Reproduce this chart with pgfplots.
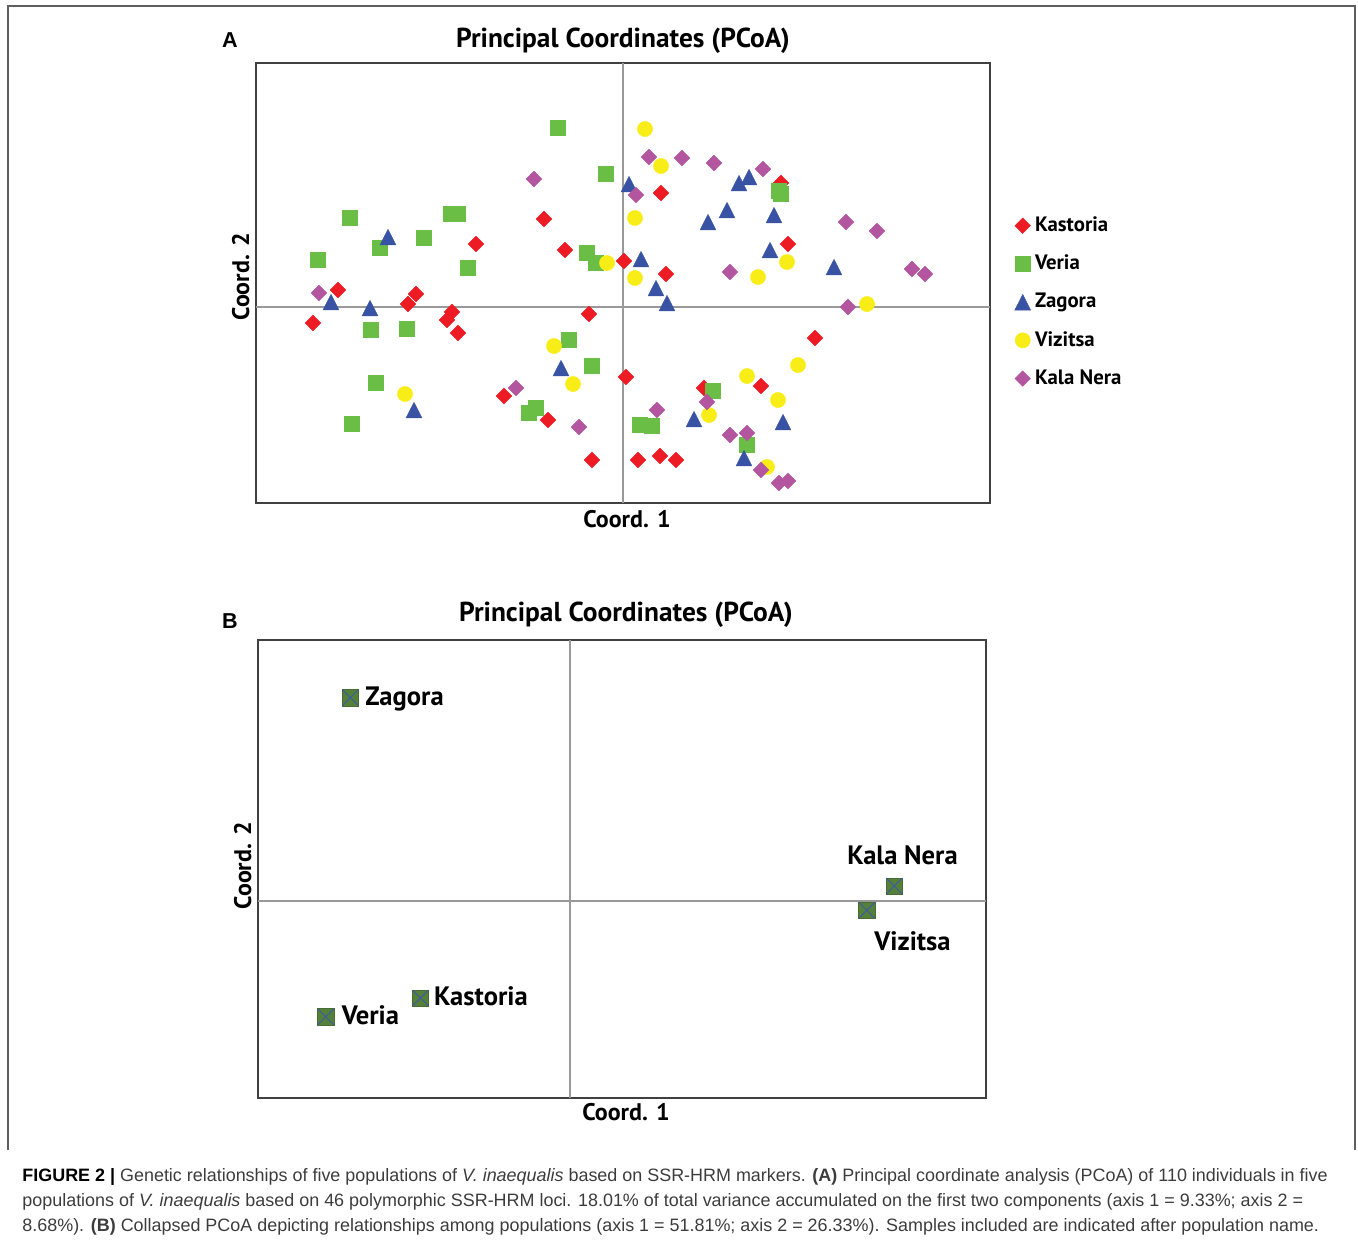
\documentclass[border=0pt]{standalone}
\usepackage{fontspec}
\setmainfont{Liberation Sans}
\newfontfamily\chartfont{PT Sans}
\usepackage{pgfplots}
\usepackage{pgfplotstable}
\pgfplotsset{compat=1.18}

\definecolor{cKas}{RGB}{237,28,36}
\definecolor{cVer}{RGB}{106,189,69}
\definecolor{cZag}{RGB}{57,83,164}
\definecolor{cViz}{RGB}{248,237,22}
\definecolor{cKal}{RGB}{180,85,160}
\definecolor{cBoxG}{RGB}{84,128,58}
\definecolor{cBoxB}{RGB}{60,90,170}
\definecolor{frameC}{RGB}{95,95,95}
\definecolor{capC}{RGB}{60,60,60}

% panel A: individuals (coord 1, coord 2)
\pgfplotstableread{
x y
-0.79 0.88
-1.47 0.63
-0.58 0.57
0.01 0.46
-2.85 0.17
-2.07 0.13
-2.15 0.03
-1.71 -0.05
-1.76 -0.13
-1.65 -0.26
-3.10 -0.16
-0.34 -0.07
0.03 -0.70
-1.19 -0.89
-0.75 -1.13
-0.31 -1.53
0.38 1.14
1.58 1.24
1.65 0.63
0.43 0.33
1.92 -0.31
1.38 -0.79
0.81 -0.81
0.15 -1.53
0.37 -1.49
0.53 -1.53
}\kastoria

\pgfplotstableread{
x y
-0.65 1.79
-0.17 1.33
-2.73 0.89
-1.72 0.93
-1.65 0.93
-2.43 0.59
-1.99 0.69
-3.05 0.47
-0.36 0.54
-0.27 0.44
-1.55 0.39
-2.52 -0.23
-2.16 -0.22
-0.54 -0.33
-0.31 -0.59
-2.47 -0.76
-0.87 -1.01
-0.94 -1.06
-2.71 -1.17
1.56 1.16
1.58 1.13
0.90 -0.84
0.17 -1.18
0.29 -1.19
1.24 -1.38
}\veria

\pgfplotstableread{
x y
0.06 1.23
-2.35 0.70
-2.92 0.05
-2.53 -0.01
-0.62 -0.61
-2.09 -1.03
1.16 1.24
1.26 1.30
0.85 0.85
1.04 0.97
1.51 0.92
1.47 0.57
2.11 0.40
0.18 0.48
0.33 0.19
0.44 0.04
0.71 -1.12
1.60 -1.15
1.21 -1.51
}\zagora

\pgfplotstableread{
x y
-0.16 0.44
-0.69 -0.39
-0.50 -0.77
-2.18 -0.87
0.22 1.78
0.38 1.41
0.12 0.89
1.64 0.45
0.12 0.29
1.35 0.30
2.44 0.03
1.75 -0.58
1.24 -0.69
1.55 -0.93
0.86 -1.08
1.44 -1.60
}\vizitsa

\pgfplotstableread{
x y
-0.89 1.28
-3.04 0.14
-1.07 -0.81
-0.44 -1.20
0.26 1.50
0.59 1.49
0.91 1.44
1.40 1.38
0.13 1.12
2.23 0.85
2.54 0.76
2.89 0.38
3.02 0.33
1.07 0.35
2.25 0.00
0.84 -0.95
0.34 -1.03
1.07 -1.28
1.24 -1.26
1.38 -1.63
1.56 -1.76
1.65 -1.74
}\kalanera

% panel B: population centroids
\pgfplotstableread{
x y
-2.196 2.033
-1.495 -0.970
-2.442 -1.157
2.968 -0.093
3.243 0.150
}\collapsed

\pgfplotsset{
  pcoa/.style={
    scale only axis, anchor=south west,
    xtick=\empty, ytick=\empty,
    extra x ticks={0}, extra y ticks={0},
    extra x tick labels={}, extra y tick labels={},
    extra tick style={grid=major, major tick length=0pt,
      major grid style={draw=black!40, line width=0.7pt}},
    axis line style={draw=black!75, line width=1.1pt},
    title={Principal Coordinates (PCoA)},
    title style={font=\chartfont\bfseries\fontsize{13.7}{15}\selectfont,
      at={(axis description cs:0.5,1)}, anchor=base},
    xlabel={Coord. 1}, ylabel={Coord. 2},
    label style={font=\chartfont\bfseries\fontsize{12}{14}\selectfont},
    xlabel style={at={(axis description cs:0.5,0)}, anchor=base},
    ylabel style={rotate=0, anchor=base},
    clip=false,
  },
}

\begin{document}
\begin{tikzpicture}
\path[use as bounding box] (0pt,0pt) rectangle (679pt,-621pt);

\begin{axis}[pcoa,
  at={(128pt,-251.5pt)}, width=367pt, height=220pt,
  xmin=-3.67, xmax=3.67, ymin=-1.96, ymax=2.44,
  title style={yshift=2pt},
  xlabel style={yshift=-12pt, xshift=2pt},
  ylabel style={at={(axis description cs:-0.0095,0.514)}},
  legend style={at={(axis description cs:1.025,0.665)}, anchor=north west,
    draw=none, fill=none, row sep=8.25pt,
    font=\chartfont\bfseries\fontsize{10.4}{12}\selectfont,
    nodes={inner sep=1pt},
    /tikz/every odd column/.append style={column sep=1.2pt}},
  legend cell align=left,
  legend image code/.code={\draw[#1] plot coordinates {(2pt,0pt)};},
]
\addplot[only marks, mark=square*, mark size=2.75pt,
  mark options={rotate=45, fill=cKas, draw=cKas, line width=0.2pt}] table {\kastoria};
\addlegendentry{Kastoria}
\addplot[only marks, mark=square*, mark size=3.7pt,
  mark options={fill=cVer, draw=cVer, line width=0.2pt}] table {\veria};
\addlegendentry{Veria}
\addplot[only marks, mark=triangle*, mark size=4.6pt,
  mark options={yscale=1.14, yshift=-1.2pt, fill=cZag, draw=cZag, line width=0.2pt}] table {\zagora};
\addlegendentry{Zagora}
\addplot[only marks, mark=*, mark size=3.8pt,
  mark options={fill=cViz, draw=cViz, line width=0.2pt}] table {\vizitsa};
\addlegendentry{Vizitsa}
\addplot[only marks, mark=square*, mark size=2.75pt,
  mark options={rotate=45, fill=cKal, draw=cKal, line width=0.2pt}] table {\kalanera};
\addlegendentry{Kala Nera}
\end{axis}

\begin{axis}[pcoa,
  at={(129pt,-549pt)}, width=364pt, height=229pt,
  xmin=-3.12, xmax=4.16, ymin=-1.97, ymax=2.61,
  title style={yshift=3pt, xshift=2pt},
  xlabel style={yshift=-11pt, xshift=2pt},
  ylabel style={at={(axis description cs:-0.0096,0.507)}},
]
\addplot[only marks, mark=square*, mark size=4.1pt,
  mark options={fill=cBoxG, draw=cBoxG!85!black, line width=0.3pt}] table {\collapsed};
\addplot[only marks, mark=x, mark size=5.6pt,
  mark options={draw=cBoxB, line width=0.45pt}] table {\collapsed};
\begin{scope}[every node/.style={font=\chartfont\bfseries\fontsize{13.3}{15}\selectfont, inner sep=0pt}]
\node[anchor=base west] at (axis cs:-2.05,1.953) {Zagora};
\node[anchor=base west] at (axis cs:-1.362,-1.047) {Kastoria};
\node[anchor=base west] at (axis cs:-2.286,-1.23) {Veria};
\node[anchor=base] at (axis cs:3.325,0.37) {Kala Nera};
\node[anchor=base] at (axis cs:3.425,-0.497) {Vizitsa};
\end{scope}
\end{axis}

\begin{scope}[x=0.5pt, y=-0.5pt]
\draw[frameC, line width=1pt] (7.5,1150) -- (7.5,6) -- (1354.5,6) -- (1354.5,1150);
\node[font=\bfseries\fontsize{10.8}{12}\selectfont, anchor=base, inner sep=0pt] at (230,47) {A};
\node[font=\bfseries\fontsize{10.8}{12}\selectfont, anchor=base, inner sep=0pt] at (230,628) {B};
\begin{scope}[every node/.style={anchor=base west, inner sep=0pt, text=capC,
    font=\fontsize{8.97}{10}\selectfont}]
\node at (22,1181) {\textbf{\color{black}FIGURE 2 |} Genetic relationships of five populations of \textit{V. inaequalis} based on SSR-HRM markers. \textbf{(A)} Principal coordinate analysis (PCoA) of 110 individuals in five};
\node at (22,1206) {populations of \textit{V. inaequalis} based on 46 polymorphic SSR-HRM loci. 18.01\% of total variance accumulated on the first two components (axis 1 = 9.33\%; axis 2 =};
\node at (22,1231) {8.68\%). \textbf{(B)} Collapsed PCoA depicting relationships among populations (axis 1 = 51.81\%; axis 2 = 26.33\%). Samples included are indicated after population name.};
\end{scope}
\end{scope}
\end{tikzpicture}
\end{document}
